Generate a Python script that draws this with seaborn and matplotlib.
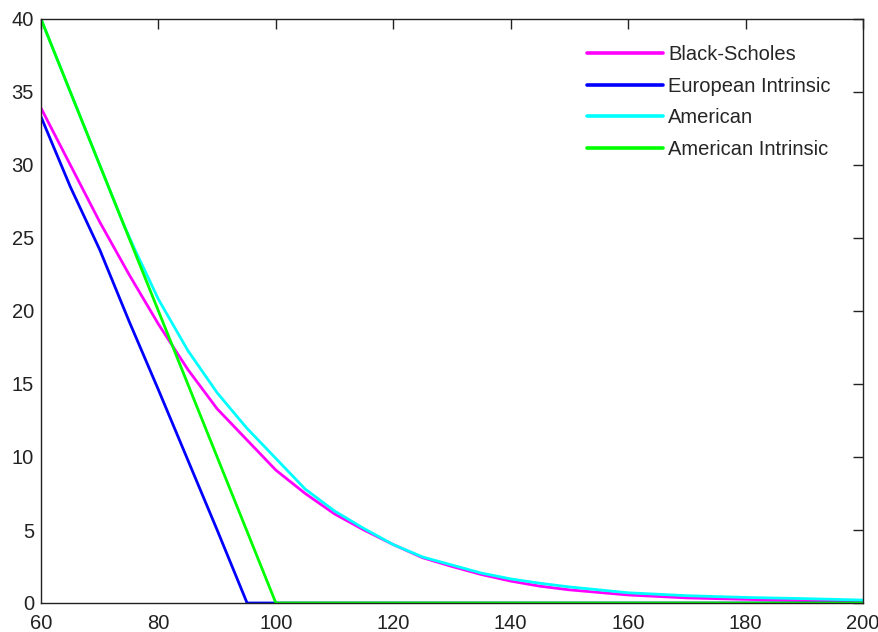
import numpy as np
import pandas as pd
import matplotlib
matplotlib.use("Agg")
import matplotlib.pyplot as plt
import seaborn as sns

# ---- data ----
bs_x = [60, 65, 70, 75, 80, 85, 90, 95, 100, 105, 110, 115, 120, 125, 130, 135, 140, 145, 150, 160, 170, 185, 200]
bs_y = [33.9, 30.0, 26.1, 22.5, 19.1, 16.0, 13.3, 11.2, 9.1, 7.5, 6.1, 5.0, 4.0, 3.1, 2.5, 1.95, 1.5, 1.15, 0.9, 0.55, 0.35, 0.2, 0.1]

eu_x = [60, 65, 70, 75, 80, 85, 90, 95.1, 200]
eu_y = [33.3, 28.5, 24.2, 19.3, 14.6, 9.8, 5.0, 0.0, 0.0]

am_x = [60, 65, 70, 74, 76, 80, 85, 90, 95, 100, 105, 110, 115, 120, 125, 130, 135, 140, 145, 150, 155, 160, 170, 180, 190, 200]
am_y = [40.0, 35.0, 30.0, 26.0, 24.2, 20.8, 17.3, 14.4, 12.0, 9.9, 7.8, 6.3, 5.1, 4.0, 3.15, 2.6, 2.05, 1.65, 1.35, 1.1, 0.9, 0.7, 0.5, 0.38, 0.3, 0.2]

ai_x = [60, 100, 200]
ai_y = [40.0, 0.0, 0.0]

series_names = ["Black-Scholes", "European Intrinsic", "American", "American Intrinsic"]
series_colors = ["#ff00ff", "#0000ff", "#00ffff", "#00ff00"]
x_ticks = [60, 80, 100, 120, 140, 160, 180, 200]
y_ticks = [0, 5, 10, 15, 20, 25, 30, 35, 40]

sns.set_style("white")
plt.rcParams['font.family'] = ['Liberation Sans', 'DejaVu Sans']

fig = plt.figure(figsize=(8.79, 6.32), dpi=100)
ax = fig.add_axes([41/879, 1-603/632, (863-41)/879, (603-19)/632])

data = [(bs_x, bs_y), (eu_x, eu_y), (am_x, am_y), (ai_x, ai_y)]
for (xs, ys), name, col in zip(data, series_names, series_colors):
    sns.lineplot(x=xs, y=ys, ax=ax, color=col, label=name, linewidth=2.0,
                 estimator=None, sort=False)

ax.set_xlim(60, 200)
ax.set_ylim(0, 40)
ax.set_xticks(x_ticks)
ax.set_yticks(y_ticks)
ax.tick_params(direction='in', length=7, width=1, top=True, right=True,
               labelsize=14.5, colors='#222222')
ax.tick_params(axis='x', pad=8)
ax.tick_params(axis='y', pad=5)
for s in ax.spines.values():
    s.set_visible(True)
    s.set_color('#222222')
    s.set_linewidth(1.0)

leg = ax.legend(loc='upper left', bbox_to_anchor=(0.664, 0.955), frameon=False,
                fontsize=14.5, handlelength=3.8, handletextpad=0.25,
                labelspacing=0.62, borderpad=0, borderaxespad=0)
for line in leg.get_lines():
    line.set_linewidth(2.6)

fig.savefig("out.png", dpi=100)
